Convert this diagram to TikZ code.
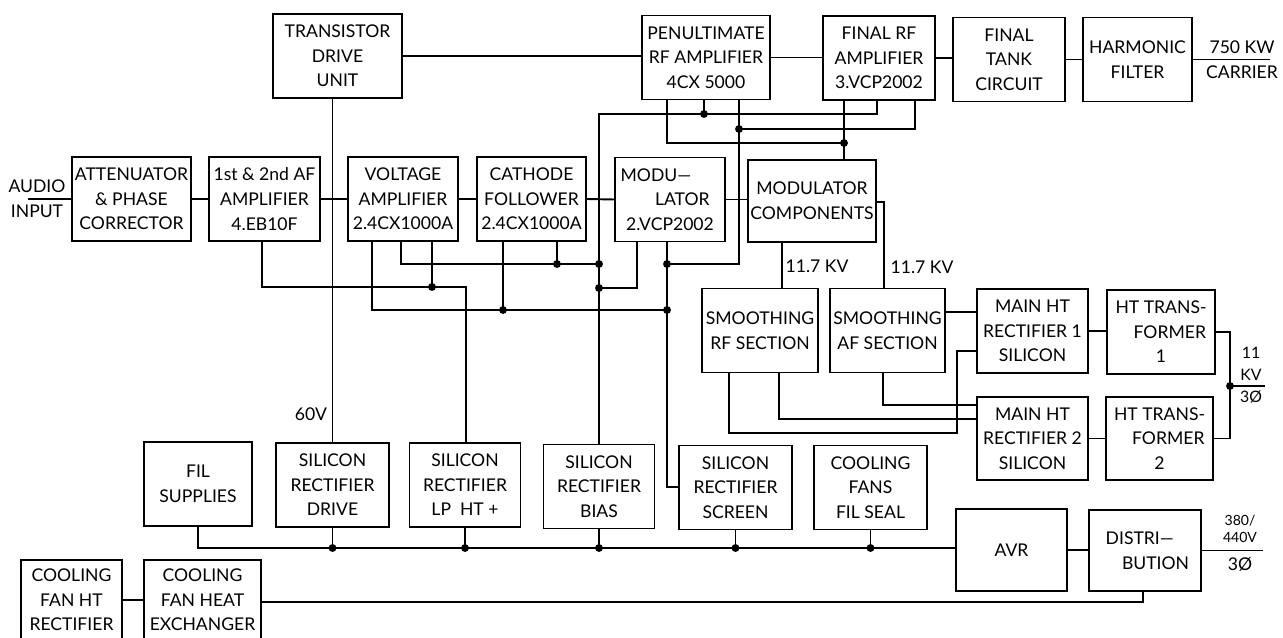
\documentclass[tikz,border=0pt]{standalone}
\usepackage{fontspec}
\setmainfont{Lato}
\usepackage{tikz}
\newcommand{\blkfont}{\fontsize{10}{14}\selectfont}
\newcommand{\kvfont}{\fontsize{9}{12.5}\selectfont}
\newcommand{\mainsfont}{\fontsize{8}{10}\selectfont}
\tikzset{
  blk/.style={
    rectangle, draw, line width=1.1pt,
    minimum width=#1, minimum height=1.68cm,
    inner sep=1pt, align=center, font=\blkfont
  },
  blk/.default=2.22cm,
  wire/.style={line width=1.1pt},
  jdot/.style={circle, fill, inner sep=0pt, minimum size=4.5pt},
  lbl/.style={inner sep=0pt, align=center, font=\blkfont},
}

\begin{document}
\begin{tikzpicture}[x=0.02cm, y=-0.02cm]
  \useasboundingbox (0,0) rectangle (1283,638);
  \clip (0,0) rectangle (1283,638);

  \node[blk=2.58cm] (tdu) at (337.5,56) {TRANSISTOR\\DRIVE\\UNIT};
  \node[blk=2.56cm] (pen) at (706,57.5) {PENULTIMATE\\RF AMPLIFIER\\4CX 5000};
  \node[blk=2.24cm] (frf) at (879,58) {FINAL RF\\AMPLIFIER\\3.VCP2002};
  \node[blk=2.24cm] (tnk) at (1009,59.5) {FINAL\\TANK\\CIRCUIT};
  \node[blk=2.18cm] (hrm) at (1137.5,59.5) {HARMONIC\\FILTER};

  \node[blk=2.38cm] (att) at (131.5,199) {ATTENUATOR\\\& PHASE\\CORRECTOR};
  \node[blk=2.22cm] (afa) at (264.5,199) {1st \& 2nd AF\\AMPLIFIER\\4.EB10F};
  \node[blk=2.20cm] (vam) at (403,199) {VOLTAGE\\AMPLIFIER\\2.4CX1000A};
  \node[blk=2.18cm] (cfo) at (531.5,199) {CATHODE\\FOLLOWER\\2.4CX1000A};
  \node[blk=2.20cm] (mod) at (670,199.5)
       {MODU---\hspace*{1.6em}\\\hspace*{1.4em}LATOR\\2.VCP2002};
  \node[blk=2.56cm, minimum height=1.64cm] (mco) at (812,201) {MODULATOR\\COMPONENTS};

  \node[blk=2.32cm] (srf) at (760,330.5) {SMOOTHING\\RF SECTION};
  \node[blk=2.30cm] (saf) at (887.5,330.5) {SMOOTHING\\AF SECTION};
  \node[blk=2.22cm] (mht1) at (1032.5,331) {MAIN HT\\RECTIFIER 1\\SILICON};
  \node[blk=2.16cm] (htt1) at (1161,332) {HT TRANS-\\\hspace*{1em}FORMER\\1};
  \node[blk=2.22cm, minimum height=1.66cm] (mht2) at (1032.5,438.5) {MAIN HT\\RECTIFIER 2\\SILICON};
  \node[blk=2.14cm, minimum height=1.66cm] (htt2) at (1159.5,438.5) {HT TRANS-\\\hspace*{1em}FORMER\\2};

  \node[blk=2.16cm] (fil) at (198,484) {FIL\\SUPPLIES};
  \node[blk=2.26cm] (srd) at (332.5,485) {SILICON\\RECTIFIER\\DRIVE};
  \node[blk=2.22cm] (slp) at (465,485) {SILICON\\RECTIFIER\\LP~~HT~+};
  \node[blk=2.22cm] (sbi) at (599,486.5) {SILICON\\RECTIFIER\\BIAS};
  \node[blk=2.26cm] (ssc) at (735.5,487.5) {SILICON\\RECTIFIER\\SCREEN};
  \node[blk=2.26cm] (cff) at (870.5,487.5) {COOLING\\FANS\\FIL SEAL};
  \node[blk=2.22cm, minimum height=1.64cm] (avr) at (1011.5,550) {AVR};
  \node[blk=2.24cm, minimum height=1.62cm] (dst) at (1145,550.5)
       {DISTRI---\hspace*{0.6em}\\\hspace*{1.2em}BUTION};

  \node[blk=2.02cm, minimum height=1.6cm] (cfh) at (71.5,600) {COOLING\\FAN HT\\RECTIFIER};
  \node[blk=2.34cm, minimum height=1.6cm] (cfx) at (202.5,600) {COOLING\\FAN HEAT\\EXCHANGER};

  \node[lbl] (ain) at (37,199) {AUDIO\\INPUT};
  \coordinate (ain0) at (28,199);
  \node[lbl] (car) at (1242,60) {750 KW\\CARRIER};
  \coordinate (car0) at (1270,60);
  \node[lbl, font=\kvfont] (hv) at (1251,375) {11\\KV\\3Ø};
  \coordinate (hv0) at (1265,386);
  \node[lbl, font=\mainsfont] (mn) at (1240,529) {380/\\440V};
  \node[lbl] (mn3) at (1240,564) {3Ø};
  \coordinate (mn0) at (1263,550);
  \node[lbl] (kv1) at (817,266) {11.7 KV};
  \node[lbl] (kv2) at (922,267) {11.7 KV};
  \node[lbl] (v60) at (311,414) {60V};

  \coordinate (k1) at (877,114);
  \coordinate (k2) at (599,114);
  \coordinate (j1) at (704,114);
  \coordinate (j2) at (739,129);
  \coordinate (k4) at (915,129);
  \coordinate (k3) at (739,264);
  \coordinate (j6) at (667,264);
  \coordinate (k5) at (667,143);
  \coordinate (j3) at (844,143);
  \coordinate (j4) at (557,264);
  \coordinate (j5) at (599,264);
  \coordinate (k8) at (401,264);
  \coordinate (k7) at (637,288);
  \coordinate (j7) at (599,288);
  \coordinate (k9) at (262,287);
  \coordinate (k10) at (466,287);
  \coordinate (j8) at (432,287);
  \coordinate (k11) at (372,310);
  \coordinate (j9) at (503,310);
  \coordinate (j10) at (667,310);
  \coordinate (k6) at (667,487);
  \coordinate (k12) at (782,270);
  \coordinate (k13) at (884,202);
  \coordinate (k14) at (960,312);
  \coordinate (k15) at (883,405);
  \coordinate (k16) at (779,419);
  \coordinate (k17) at (729,433);
  \coordinate (k18) at (957,433);
  \coordinate (k19) at (957,351);
  \coordinate (j16) at (1230,386);
  \coordinate (bus) at (332.5,548);
  \coordinate (k23) at (1143,602);

  \draw[wire] (tdu.east) -- (tdu.east -| pen.west);
  \draw[wire] (pen.east) -- (pen.east -| frf.west);
  \draw[wire] (frf.east) -- (frf.east -| tnk.west);
  \draw[wire] (tnk.east) -- (hrm.west);
  \draw[wire] (hrm.east) -- (hrm.east -| car0);
  \draw[wire] (ain0) -- (ain0 -| att.west);
  \foreach \a/\b in {att/afa, afa/vam, vam/cfo, cfo/mod}
    \draw[wire] (\a.east) -- (\b.west);
  \draw[wire] (mod.east) -- (mod.east -| mco.west);
  \draw[wire] (tdu.south -| srd.north) -- (srd.north);

  \draw[wire] (k1 |- frf.south) -- (k1) -- (k2) -- (k2 |- sbi.north);
  \draw[wire] (j1 |- pen.south) -- (j1);
  \draw[wire] (k3 |- pen.south) -- (k3) -- (j6);
  \draw[wire] (j2) -- (k4) -- (k4 |- frf.south);
  \draw[wire] (k5 |- pen.south) -- (k5) -- (j3);
  \draw[wire] (j3 |- frf.south) -- (j3 |- mco.north);
  \draw[wire] (j6 |- mod.south) -- (k6) -- (k6 -| ssc.west);
  \draw[wire] (k7 |- mod.south) -- (k7) -- (j7);
  \draw[wire] (k8 |- vam.south) -- (k8) -- (j5);
  \draw[wire] (j4 |- cfo.south) -- (j4);
  \draw[wire] (k9 |- afa.south) -- (k9) -- (k10) -- (k10 |- slp.north);
  \draw[wire] (j8 |- vam.south) -- (j8);
  \draw[wire] (k11 |- vam.south) -- (k11) -- (j10);
  \draw[wire] (j9 |- cfo.south) -- (j9);

  \draw[wire] (k12 |- mco.south) -- (k12 |- srf.north);
  \draw[wire] (mco.east |- k13) -- (k13) -- (k13 |- saf.north);
  \draw[wire] (k14 -| saf.east) -- (k14 -| mht1.west);
  \draw[wire] (k15 |- saf.south) -- (k15) -- (k15 -| mht2.west);
  \draw[wire] (k16 |- srf.south) -- (k16) -- (k16 -| mht2.west);
  \draw[wire] (k17 |- srf.south) -- (k17) -- (k18) -- (k19) -- (k19 -| mht1.west);
  \draw[wire] (mht1.east) -- (mht1.east -| htt1.west);
  \draw[wire] (mht2.east) -- (mht2.east -| htt2.west);
  \draw[wire] (htt1.east) -| (j16) |- (htt2.east);
  \draw[wire] (j16) -- (hv0);

  \draw[wire] (fil.south) |- (bus) -- (bus -| avr.west);
  \foreach \b in {srd,slp,sbi,ssc,cff}
    \draw[wire] (\b.south) -- (\b.south |- bus) node[jdot] (d\b) {};
  \draw[wire] (avr.east) -- (avr.east -| dst.west);
  \draw[wire] (dst.east) -- (dst.east -| mn0);
  \draw[wire] (k23 |- dst.south) -- (k23) -- (k23 -| cfx.east);
  \draw[wire] (cfh.east) -- (cfx.west);

  \foreach \j in {j1,j2,j3,j4,j5,j6,j7,j8,j9,j10,j16}
    \node[jdot] (d\j) at (\j) {};
\end{tikzpicture}
\end{document}
